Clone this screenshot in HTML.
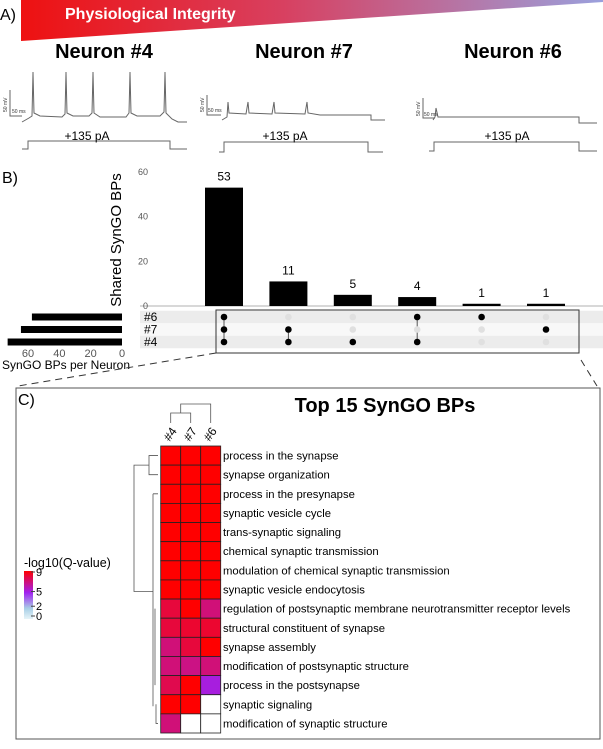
<!DOCTYPE html>
<html><head><meta charset="utf-8"><style>
body{margin:0;background:#fff;}
svg{display:block;font-family:"Liberation Sans",Arial,sans-serif;}
</style></head><body>
<svg id="fig" width="603" height="749" viewBox="0 0 603 749">
<defs>
<linearGradient id="pg" x1="0" x2="1" y1="0" y2="0">
<stop offset="0" stop-color="#ee1111"/><stop offset="0.45" stop-color="#d84060"/><stop offset="1" stop-color="#9aa0dd"/>
</linearGradient>
<linearGradient id="cb" x1="0" x2="0" y1="1" y2="0">
<stop offset="0" stop-color="#e6f4f8"/><stop offset="0.22" stop-color="#a8cfe6"/><stop offset="0.55" stop-color="#a020f0"/><stop offset="1" stop-color="#ff0000"/>
</linearGradient>
</defs>
<!-- Panel A -->
<text x="0" y="20" font-size="16">A)</text>
<polygon points="21,0 603,0 603,2 21,41" fill="url(#pg)"/>
<text x="65" y="19" font-size="16" font-weight="bold" fill="#fff">Physiological Integrity</text>
<g font-size="20" font-weight="bold" text-anchor="middle">
<text x="104" y="58">Neuron #4</text>
<text x="304" y="58">Neuron #7</text>
<text x="513" y="58">Neuron #6</text>
</g>
<g fill="none" stroke="#666" stroke-width="1">
<path d="M22,122 L29,118 L32,116 L33,72 L34,113 L40,116 L62,117 L65,114 L66,72 L67,113 L73,116 L89,116 L92,113 L93,72 L94,113 L100,117 L126,117 L129,113 L130,72 L131,113 L137,116 L160,116 L164,112 L165,72 L166,113 L172,119 L178,122 L187,122"/>
<path d="M22,149 L28,149 L28,141 L170,141 L170,149 L187,149"/>
<path d="M222,120 L227,117 L228,102 L229,113 L246,114 L248,102 L249,113 L272,114 L274,102 L275,113 L305,114 L307,102 L308,113 L320,115 L371,115 L371,120 L385,120"/>
<path d="M219,152 L224,152 L224,142 L368,142 L368,152 L383,152"/>
<path d="M433,120 L435,117 L436,108 L438,117 L579,117 L579,123 L597,123"/>
<path d="M429,151 L434,151 L434,142 L579,142 L579,151 L597,151"/>
<path d="M10,90 L10,116 L22,116 M207,95 L207,115 L221,115 M423,98 L423,118 L435,118"/>
</g>
<g font-size="5" fill="#333">
<text transform="translate(7,112) rotate(-90)">50 mV</text><text x="12" y="113">50 ms</text>
<text transform="translate(204,112) rotate(-90)">50 mV</text><text x="208" y="112">50 ms</text>
<text transform="translate(420,116) rotate(-90)">50 mV</text><text x="424" y="116">50 ms</text>
</g>
<g font-size="12" text-anchor="middle">
<text x="87" y="140">+135 pA</text>
<text x="285" y="140">+135 pA</text>
<text x="507" y="140">+135 pA</text>
</g>
<!-- Panel B -->
<text x="2" y="183" font-size="16">B)</text>
<g id="upset"></g>
<path d="M216,353 L18,386 M581,360 L597,386" stroke="#333" stroke-dasharray="7,5" fill="none"/>
<!-- Panel C -->
<rect x="16" y="388" width="584" height="351" fill="none" stroke="#555"/>
<text x="18" y="405" font-size="16">C)</text>
<text x="385" y="412" font-size="20" font-weight="bold" text-anchor="middle">Top 15 SynGO BPs</text>
<g id="heat"></g>
<text x="24" y="567" font-size="12.5">-log10(Q-value)</text>
<rect x="24" y="571" width="9" height="48" fill="url(#cb)"/>
<g id="cbt" font-size="11"></g>
</svg>
<script>
const NS="http://www.w3.org/2000/svg";
function mk(t,a,p,txt){const e=document.createElementNS(NS,t);for(const k in a)e.setAttribute(k,a[k]);if(txt!==undefined)e.textContent=txt;p.appendChild(e);return e;}
// ---- UpSet data ----
const intersectCounts=[53,11,5,4,1,1];
const setNames=["#6","#7","#4"];
const setSizes=[57.5,64.5,73];
const membership=[[1,1,1],[0,1,1],[0,0,1],[1,0,1],[1,0,0],[0,1,0]];
const yTicks=[0,20,40,60];
const xTicks=[60,40,20,0];
const up=document.getElementById('upset');
const yB=v=>306-v*(134/60);
const xBar=i=>224+i*64.4;
const rowY=j=>317+j*12.5;
const xSet=v=>122-v*(94/60);
setNames.forEach((n,j)=>{
 let r=mk('rect',{x:140,y:rowY(j)-6.25,width:463,height:12.5,fill:j===1?'#f8f8f8':'#ececec'},up);
 
 let t=mk('text',{x:144,y:rowY(j)+4,'font-size':12},up,n);
 
 let b=mk('rect',{x:xSet(setSizes[j]),y:rowY(j)-3.5,width:xSet(0)-xSet(setSizes[j]),height:7,fill:'#000'},up);
 
});
mk('line',{x1:140,x2:603,y1:306,y2:306,stroke:'#999','stroke-width':0.8},up);
yTicks.forEach(v=>{let t=mk('text',{x:148,y:yB(v)+3,'font-size':9,fill:'#555','text-anchor':'end'},up,v);
 });
xTicks.forEach(v=>{let t=mk('text',{x:xSet(v),y:357,'font-size':11,fill:'#555','text-anchor':'middle'},up,v);
 });
let yt=mk('text',{transform:'translate(121,240) rotate(-90)','font-size':15,'text-anchor':'middle'},up,'Shared SynGO BPs');

let xt=mk('text',{x:66,y:369,'font-size':12,'text-anchor':'middle'},up,'SynGO BPs per Neuron');

intersectCounts.forEach((c,i)=>{
 let b=mk('rect',{x:xBar(i)-19,y:yB(c),width:38,height:306-yB(c),fill:'#000'},up);
 
 let t=mk('text',{x:xBar(i),y:yB(c)-7,'font-size':12,'text-anchor':'middle'},up,c);
 
 const on=membership[i].map((m,j)=>m?j:-1).filter(j=>j>=0);
 if(on.length>1)mk('line',{x1:xBar(i),x2:xBar(i),y1:rowY(on[0]),y2:rowY(on[on.length-1]),stroke:'#555','stroke-width':1},up);
 membership[i].forEach((m,j)=>{let d=mk('circle',{cx:xBar(i),cy:rowY(j),r:3.3,fill:m?'#000':'#e0e0e0'},up);
  });
});
let box=mk('rect',{x:216,y:310,width:363,height:43,fill:'none',stroke:'#333','stroke-width':1},up);

// ---- Heatmap data ----
const bpTerms=["process in the synapse","synapse organization","process in the presynapse","synaptic vesicle cycle","trans-synaptic signaling","chemical synaptic transmission","modulation of chemical synaptic transmission","synaptic vesicle endocytosis","regulation of postsynaptic membrane neurotransmitter receptor levels","structural constituent of synapse","synapse assembly","modification of postsynaptic structure","process in the postsynapse","synaptic signaling","modification of synaptic structure"];
const neurons=["#4","#7","#6"];
const qN4=[9,9,9,9,9,9,9,9,8,8,7,7,7.7,9,7];
const qN7=[9,9,9,9,9,9,9,9,9,8.2,8,6.8,9,9,null];
const qN6=[9,9,9,9,9,9,9,9,7,8.2,9,7,5.3,null,null];
const cbTicks=[0,2,5,9];
const stops=[[0,[230,244,248]],[2,[168,207,230]],[5,[160,32,240]],[9,[255,0,0]]];
function col(v){if(v===null)return '#fff';v=Math.max(0,Math.min(9,v));for(let k=1;k<stops.length;k++){if(v<=stops[k][0]){const a=stops[k-1],b=stops[k],t=(v-a[0])/(b[0]-a[0]);return 'rgb('+a[1].map((c,i)=>Math.round(c+(b[1][i]-c)*t)).join(',')+')';}}return 'rgb(255,0,0)';}
const hm=document.getElementById('heat');
const hx0=160.7,cw=20,hy0=446,rh=(733-446)/bpTerms.length;
const cols=[qN4,qN7,qN6];
const cx=i=>hx0+i*cw, ry=r=>hy0+r*rh;
bpTerms.forEach((term,r)=>{
 cols.forEach((arr,i)=>{let c=mk('rect',{x:cx(i),y:ry(r),width:cw,height:rh,fill:col(arr[r]),stroke:'#222','stroke-width':0.8},hm);
  });
 let t=mk('text',{x:223,y:ry(r)+rh/2+4,'font-size':11.3},hm,term);
 
});
neurons.forEach((n,i)=>{let t=mk('text',{transform:`translate(${cx(i)+9},${hy0-4}) rotate(-55)`,'font-size':12},hm,n);
 });
const cm=i=>cx(i)+cw/2, rm=r=>ry(r)+rh/2;
let dg=mk('path',{fill:'none',stroke:'#555','stroke-width':0.8,d:
 `M${cm(0)},423 L${cm(0)},413 L${cm(1)},413 L${cm(1)},423 M${(cm(0)+cm(1))/2},413 L${(cm(0)+cm(1))/2},404 L${cm(2)},404 L${cm(2)},423`+
 ` M158,${rm(0)} L149,${rm(0)} L149,${rm(1)} L158,${rm(1)} M149,${(rm(0)+rm(1))/2} L134,${(rm(0)+rm(1))/2} L134,${rm(7)+2} L153,${rm(7)+2}`+
 ` M153,${rm(2)} L153,${rm(13)+2} M153,${rm(2)} L158,${rm(2)} M155,${rm(8)} L155,${rm(12)} M156,${rm(13)} L156,${rm(14)} L158,${rm(14)}`},hm);

const cbg=document.getElementById('cbt');
const cbY=v=>616-v*(44/9);
cbTicks.forEach(v=>{mk('line',{x1:31,x2:35,y1:cbY(v),y2:cbY(v),stroke:'#444'},cbg);
 let t=mk('text',{x:36,y:cbY(v)+4},cbg,v);});
</script>
</body></html>
